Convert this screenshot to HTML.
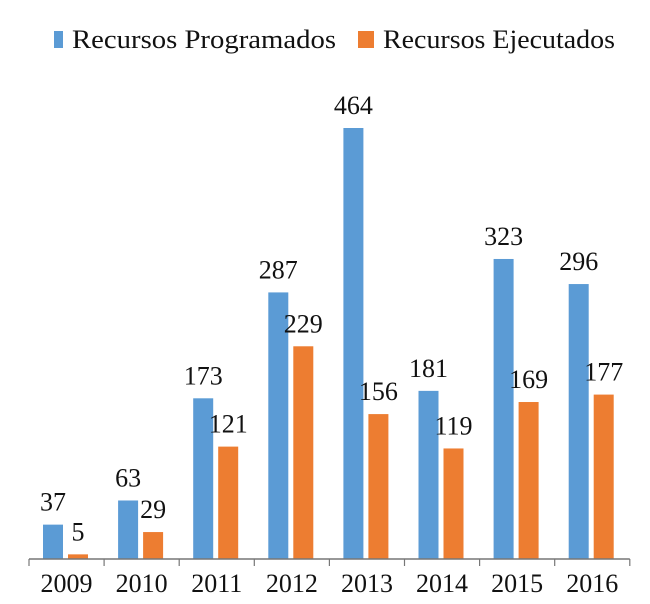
<!DOCTYPE html>
<html><head><meta charset="utf-8"><style>
html,body{margin:0;padding:0;background:#fff;}
svg{display:block;font-family:"Liberation Serif","Times New Roman",serif;}
</style></head><body>
<svg id="chart" width="650" height="604" viewBox="0 0 650 604" xmlns="http://www.w3.org/2000/svg">
<g>
<rect x="54" y="31" width="9" height="17" fill="#5b9bd5"/>
<text x="72" y="48" font-size="26" fill="#111" textLength="264" lengthAdjust="spacingAndGlyphs">Recursos Programados</text>
<rect x="358" y="31" width="16" height="17" fill="#ed7d31"/>
<text x="383" y="48" font-size="26" fill="#111" textLength="232" lengthAdjust="spacingAndGlyphs">Recursos Ejecutados</text>
</g>
<g id="bars"></g>
<g id="axis"></g>
</svg>
<script>
const categories = ["2009","2010","2011","2012","2013","2014","2015","2016"];
const programados = [37,63,173,287,464,181,323,296];
const ejecutados = [5,29,121,229,156,119,169,177];

const NS="http://www.w3.org/2000/svg";
const x0=29, catW=75.1, baseY=559, scale=(559-128)/464;
const y=v=>baseY-v*scale;
const bars=document.getElementById('bars'), axis=document.getElementById('axis');
function mk(tag,attrs,parent){const e=document.createElementNS(NS,tag);for(const k in attrs)e.setAttribute(k,attrs[k]);parent.appendChild(e);return e;}
categories.forEach((c,i)=>{
  const cx=x0+i*catW;
  const series=[[programados[i],"#5b9bd5",14,"programados"],[ejecutados[i],"#ed7d31",39,"ejecutados"]];
  series.forEach(s=>{
    const r=mk('rect',{x:cx+s[2],y:y(s[0]),width:20,height:s[0]*scale,fill:s[1]},bars);
    
    
    const t=mk('text',{x:cx+s[2]+10,y:y(s[0])-14,'font-size':26,'text-anchor':'middle',fill:'#111'},bars);
    t.textContent=s[0];
    
    
  });
  const tk=mk('line',{x1:cx,x2:cx,y1:baseY,y2:baseY+7,stroke:'#777','stroke-width':1.2},axis);
  
  
  const lb=mk('text',{x:cx+catW/2,y:592,'font-size':26,'text-anchor':'middle',fill:'#111'},axis);
  lb.textContent=c;
  
  
});
const lt=mk('line',{x1:x0+8*catW,x2:x0+8*catW,y1:baseY,y2:baseY+7,stroke:'#777','stroke-width':1.2},axis);


const al=mk('line',{x1:x0,x2:x0+8*catW,y1:baseY,y2:baseY,stroke:'#777','stroke-width':1.5},axis);


</script>
</body></html>
